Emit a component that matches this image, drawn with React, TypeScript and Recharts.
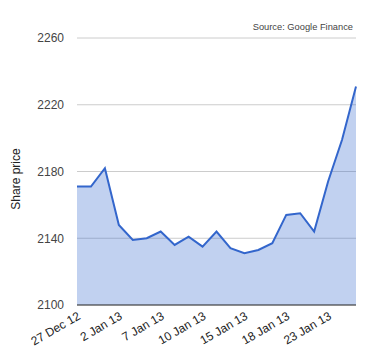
import React from 'react';
import { AreaChart, Area, XAxis, YAxis, CartesianGrid, Label } from 'recharts';

const dates = [
  '27 Dec 12', '28 Dec 12', '31 Dec 12', '2 Jan 13', '3 Jan 13', '4 Jan 13', '7 Jan 13',
  '8 Jan 13', '9 Jan 13', '10 Jan 13', '11 Jan 13', '14 Jan 13', '15 Jan 13', '16 Jan 13',
  '17 Jan 13', '18 Jan 13', '21 Jan 13', '22 Jan 13', '23 Jan 13', '24 Jan 13', '25 Jan 13',
];
const prices = [
  2171, 2171, 2182, 2148, 2139, 2140, 2144, 2136, 2141, 2135, 2144,
  2134, 2131, 2133, 2137, 2154, 2155, 2144, 2174, 2199, 2231,
];
const tickLabels = ['27 Dec 12', '2 Jan 13', '7 Jan 13', '10 Jan 13', '15 Jan 13', '18 Jan 13', '23 Jan 13'];
const yTicks = [2100, 2140, 2180, 2220, 2260];

const data = dates.map((d, i) => ({ date: d, price: prices[i] }));

const FONT = 'Arial, "Liberation Sans", sans-serif';

export default function App() {
  return (
    <div style={{ position: 'absolute', left: 0, top: 0, width: 380, height: 360, fontFamily: FONT }}>
      <AreaChart
        width={380}
        height={360}
        data={data}
        margin={{ top: 38, right: 24, bottom: 0, left: 0 }}
      >
        <CartesianGrid vertical={false} stroke="#cccccc" />
        <XAxis
          dataKey="date"
          ticks={tickLabels}
          interval={0}
          height={55}
          tickLine={false}
          tickSize={0}
          tickMargin={6}
          axisLine={{ stroke: '#333333', strokeWidth: 1 }}
          angle={-30}
          textAnchor="end"
          tick={{ fill: '#222222', fontSize: 12, fontFamily: FONT }}
        />
        <YAxis
          domain={[2100, 2260]}
          ticks={yTicks}
          width={77}
          axisLine={false}
          tickLine={false}
          tickSize={0}
          tickMargin={13}
          tick={{ fill: '#444444', fontSize: 12, fontFamily: FONT }}
        >
          <Label
            value="Share price"
            angle={-90}
            position="center"
            dx={-22.5}
            dy={7.5}
            style={{ fill: '#222222', fontSize: 12, fontFamily: FONT, textAnchor: 'middle' }}
          />
        </YAxis>
        <Area
          type="linear"
          dataKey="price"
          stroke="#3366cc"
          strokeWidth={2}
          fill="#3366cc"
          fillOpacity={0.3}
          baseValue={2100}
          dot={false}
          activeDot={false}
          isAnimationActive={false}
        />
      </AreaChart>
      <div
        style={{
          position: 'absolute',
          right: 27,
          top: 21,
          fontSize: 9.3,
          color: '#444444',
          fontFamily: FONT,
          whiteSpace: 'nowrap',
          lineHeight: '12px',
        }}
      >
        Source: Google Finance
      </div>
    </div>
  );
}
